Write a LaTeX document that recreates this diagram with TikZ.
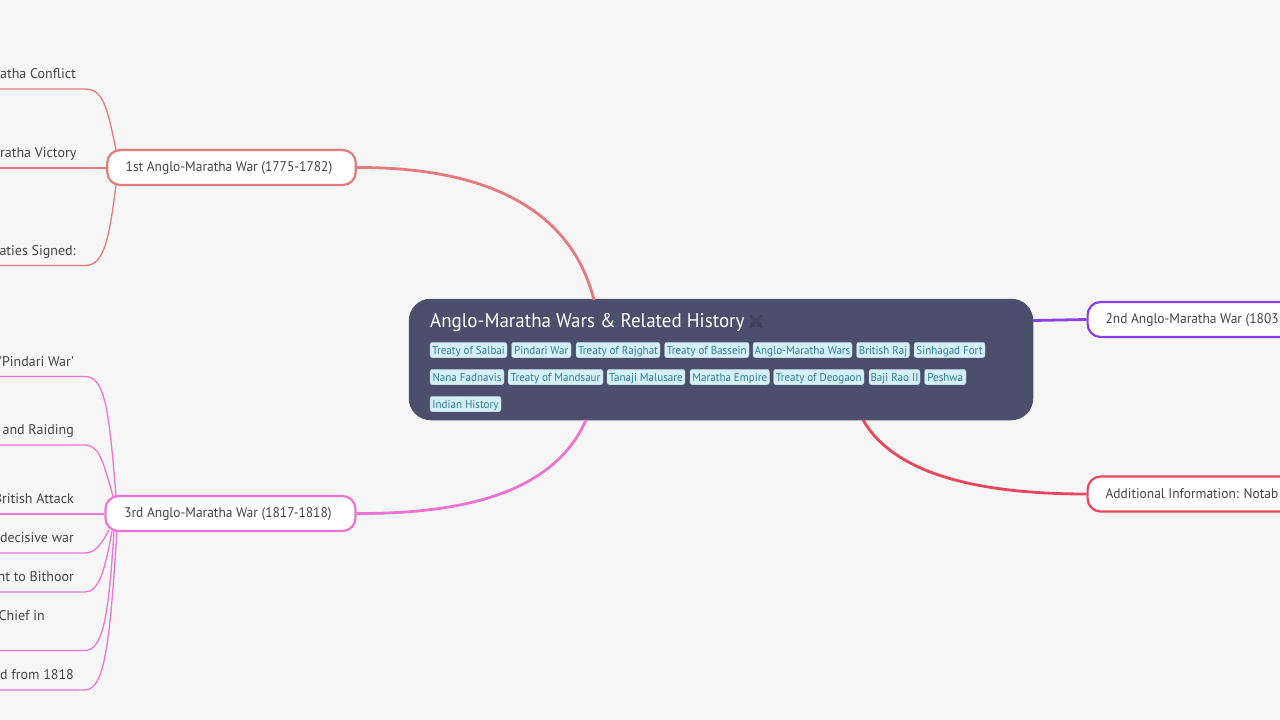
\documentclass[tikz,border=0pt]{standalone}
\usepackage{fontspec}
\setmainfont[FakeStretch=0.96]{PT Sans}
\newfontfamily\leaffont{PT Sans}
\newfontfamily\emojifont{Noto Emoji}
\definecolor{bgc}{HTML}{F6F6F6}
\definecolor{rootc}{HTML}{4B4F6B}
\definecolor{tagfill}{HTML}{D5F0F8}
\definecolor{tagtext}{HTML}{2F7F98}
\definecolor{txtc}{HTML}{454545}
\definecolor{salmon}{HTML}{E57A7C}
\definecolor{orchid}{HTML}{EE74D3}
\definecolor{violet2}{HTML}{8A3FEA}
\definecolor{crimson}{HTML}{E8465A}
\tikzset{
  x=1pt,y=-1pt,
  fs/.style={font=\fontsize{14}{17}\selectfont},
  rootbox/.style={draw=none,fill=rootc,rounded corners=22pt,minimum width=624.5pt,minimum height=121.5pt,inner sep=0pt},
  tagbox/.style={fill=tagfill,draw=tagfill!70!rootc,line width=.4pt,rounded corners=2.5pt,minimum height=15.5pt,inner sep=0pt,text=tagtext,text height=11pt,text depth=2pt,font=\fontsize{11.5}{13}\selectfont},
  branchbox/.style={fill=white,line width=2.2pt,rounded corners=13pt,minimum height=35pt,inner ysep=0pt,text=txtc,text height=12pt,text depth=3.6pt,fs},
  leaf/.style={anchor=base east,inner sep=0pt,text=txtc,font=\leaffont\fontsize{14}{17}\selectfont},
  mainlink/.style={line width=2.8pt},
  sublink/.style={line width=1.3pt},
}
\newcommand{\tagat}[5]{\node[tagbox,minimum width=#3-#2] (#1) at ({(#2+#3)/2},#4) {#5};}
\begin{document}
\begin{tikzpicture}
\useasboundingbox (0,0) rectangle (1280,720);
\clip (0,0) rectangle (1280,720);
\fill[bgc] (0,0) rectangle (1280,720);
% nodes
\node[rootbox] (root) at (721,359.5) {};
\node[branchbox,draw=salmon,minimum width=248.5pt,inner xsep=6pt] (b1) at (231.5,167.5) {1st Anglo-Maratha War (1775-1782)\kern5pt};
\node[branchbox,draw=orchid,minimum width=250pt,inner xsep=6pt] (b3) at (230.5,513.5) {3rd Anglo-Maratha War (1817-1818)\kern5pt};
\node[branchbox,draw=violet2,anchor=west,inner xsep=18pt] (b2) at (1086.5,319.5) {\makebox[300pt][l]{2nd Anglo-Maratha War (1803}};
\node[branchbox,draw=crimson,anchor=west,inner xsep=18pt] (b4) at (1086.5,494) {\makebox[300pt][l]{Additional Information: Notab}};
% title
\node[anchor=base west,inner sep=0pt,text=white,font=\fontsize{19.8}{24}\selectfont] (title) at (430,327) {Anglo-Maratha Wars \& Related History};
\node[inner sep=0pt,text=black!30!rootc,font=\emojifont\fontsize{13}{13}\selectfont] (icon) at (756,322) {⚔};
% tags
\tagat{t1}{430}{507}{350}{Treaty of Salbai}
\tagat{t2}{511.5}{571}{350}{Pindari War}
\tagat{t3}{576}{660}{350}{Treaty of Rajghat}
\tagat{t4}{664.5}{749}{350}{Treaty of Bassein}
\tagat{t5}{753}{852}{350}{Anglo-Maratha Wars}
\tagat{t6}{856.5}{909.5}{350}{British Raj}
\tagat{t7}{914}{985}{350}{Sinhagad Fort}
\tagat{t8}{430}{504}{377}{Nana Fadnavis}
\tagat{t9}{508}{603}{377}{Treaty of Mandsaur}
\tagat{t10}{607}{685}{377}{Tanaji Malusare}
\tagat{t11}{690}{769.5}{377}{Maratha Empire}
\tagat{t12}{773.5}{864}{377}{Treaty of Deogaon}
\tagat{t13}{869}{920}{377}{Baji Rao II}
\tagat{t14}{924.5}{966}{377}{Peshwa}
\tagat{t15}{430}{501}{404}{Indian History}
% leaf labels
\node[leaf] (l1) at (76,78.3) {atha Conflict};
\node[leaf] (l2) at (76.5,157) {ratha Victory};
\node[leaf] (l3) at (76,255) {aties Signed:};
\node[leaf] (m1) at (74,366) {\textquotesingle Pindari War\textquotesingle};
\node[leaf] (m2) at (74,434.5) {and Raiding};
\node[leaf] (m3) at (74,503.4) {British Attack};
\node[leaf] (m4) at (74,542.3) {decisive war};
\node[leaf] (m5) at (74,581.7) {nt to Bithoor};
\node[leaf] (m6) at (45,620.5) {Chief in};
\node[leaf] (m7) at (74,679.3) {ed from 1818};
% free ends
\foreach \n/\yy in {e1/89,e2/168,e3/265.5,f1/376.5,f2/445,f3/514,f4/553,f5/592,f6/650.5,f7/690}{\coordinate (\n) at (0,\yy);}
% sublinks
\draw[sublink,salmon] (e1) -- (85,89) .. controls (103,89) and (107,106) .. (116,150);
\draw[sublink,salmon] (e2) -- (b1.west |- e2);
\draw[sublink,salmon] (e3) -- (85,265.5) .. controls (104,265.5) and (109,240) .. (116,185);
\draw[sublink,orchid] (f1) -- (85,376.5) .. controls (105,376.5) and (109,410) .. (116,496);
\draw[sublink,orchid] (f2) -- (85,445) .. controls (100,445) and (104,465) .. (113,496);
\draw[sublink,orchid] (f3) -- (b3.west |- f3);
\draw[sublink,orchid] (f4) -- (85,553) .. controls (95,553) and (101,545) .. (109,530);
\draw[sublink,orchid] (f5) -- (85,592) .. controls (99,592) and (105,570) .. (112,531);
\draw[sublink,orchid] (f6) -- (85,650.5) .. controls (104,650.5) and (109,610) .. (114,531);
\draw[sublink,orchid] (f7) -- (85,690) .. controls (105,690) and (110,640) .. (117,531);
% main links
\draw[mainlink,salmon] (b1.east) .. controls (480,167) and (570,205) .. (594,300);
\draw[mainlink,orchid] (b3.east) .. controls (470,514) and (555,490) .. (586,420);
\draw[mainlink,crimson] (863,420) .. controls (895,475) and (980,494) .. (b4.west);
\draw[mainlink,violet2] (1033,320.5) -- (b2.west);
\end{tikzpicture}
\end{document}
